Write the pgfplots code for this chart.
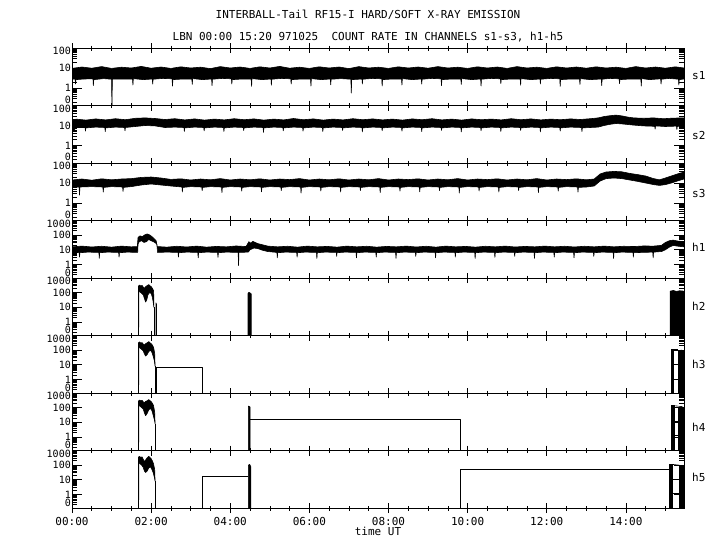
\documentclass[border=0pt]{standalone}
\usepackage{pgfplots}
\pgfplotsset{compat=1.18}
\usepackage{fontspec}
\setmainfont{DejaVu Sans Mono}
\newcommand\fs{\fontsize{11}{13}\selectfont}
\newcommand\ts{\fontsize{10}{11}\selectfont}
\newcommand\down[1]{\raisebox{-6.5pt}[0pt][0pt]{#1}}

\pgfplotsset{
  panel/.style={
    scale only axis, width=612pt, height=57.5pt,
    xmin=0, xmax=15.47, anchor=north west,
    xtick={0,2,4,6,8,10,12,14}, xticklabels={},
    minor xtick={0.5,1,1.5,2.5,3,3.5,4.5,5,5.5,6.5,7,7.5,8.5,9,9.5,10.5,11,11.5,12.5,13,13.5,14.5,15},
    xtick align=center, ytick align=inside,
    major tick length=10pt, minor tick length=5pt,
    axis line style={line width=0.8pt},
    every tick/.style={black, line width=0.6pt},
    yticklabel style={font=\ts, inner sep=1pt},
    xticklabel style={font=\fs},
    /pgf/number format/assume math mode=true,
    extra y ticks={-0.6}, extra y tick labels={\raisebox{0.8pt}{0}},
    extra y tick style={tick style={draw=none}},
    cycle list={{black, mark=none}},
    every axis plot/.append style={black, mark=none, line width=0.6pt, line join=round},
  },
  spanel/.style={panel, ymin=-0.875, ymax=2,
    ytick={0,1,2}, yticklabels={1,10,\down{100}},
    minor ytick={-0.699,-0.523,-0.398,-0.301,-0.222,-0.155,-0.097,-0.046,
      0.301,0.477,0.602,0.699,0.778,0.845,0.903,0.954,
      1.301,1.477,1.602,1.699,1.778,1.845,1.903,1.954}},
  hpanel/.style={panel, ymin=-0.93, ymax=3,
    ytick={0,1,2,3}, yticklabels={1,10,100,\down{1000}},
    minor ytick={-0.699,-0.523,-0.398,-0.301,-0.222,-0.155,-0.097,-0.046,
      0.301,0.477,0.602,0.699,0.778,0.845,0.903,0.954,
      1.301,1.477,1.602,1.699,1.778,1.845,1.903,1.954,
      2.301,2.477,2.602,2.699,2.778,2.845,2.903,2.954}},
}

\begin{document}
\begin{tikzpicture}
\path[use as bounding box] (0,0) rectangle (720pt,-550pt);
\fs
\node at (368pt,-15pt) {INTERBALL-Tail RF15-I HARD/SOFT X-RAY EMISSION};
\node at (368pt,-37pt) {LBN 00:00 15:20 971025~ COUNT RATE IN CHANNELS s1-s3, h1-h5};

% s1
\begin{axis}[spanel, at={(72pt,-48pt)}]
\addplot[fill=black] coordinates {
(0,0.98)(0.25,1.05)(0.5,0.99)(0.75,1.07)(1.0,0.98)(1.25,1.04)(1.5,1.0)(1.75,1.08)(2.0,0.99)(2.25,1.05)(2.5,0.98)(2.75,1.06)(3.0,1.0)(3.25,1.04)(3.5,0.97)(3.75,1.07)(4.0,1.0)(4.25,1.05)(4.5,0.98)(4.75,1.06)(5.0,1.0)(5.25,1.08)(5.5,0.99)(5.75,1.04)(6.0,0.98)(6.25,1.06)(6.5,1.0)(6.75,1.05)(7.0,0.97)(7.25,1.07)(7.5,1.0)(7.75,1.04)(8.0,0.98)(8.25,1.06)(8.5,1.0)(8.75,1.05)(9.0,0.99)(9.25,1.07)(9.5,1.0)(9.75,1.04)(10.0,0.98)(10.25,1.06)(10.5,1.0)(10.75,1.05)(11.0,0.98)(11.25,1.07)(11.5,1.0)(11.75,1.04)(12.0,0.98)(12.25,1.06)(12.5,1.0)(12.75,1.05)(13.0,0.99)(13.25,1.06)(13.5,1.0)(13.75,1.04)(14.0,0.98)(14.25,1.07)(14.5,1.0)(14.75,1.05)(15.0,0.99)(15.25,1.06)(15.47,1.0)
(15.47,0.45)(15.35,0.42)(15.34,0.15)(15.33,0.44)(15.1,0.48)(14.9,0.44)(14.89,0.2)(14.88,0.46)(14.6,0.42)(14.4,0.47)(14.39,0.1)(14.38,0.44)(14.1,0.45)(13.85,0.42)(13.84,0.22)(13.83,0.46)(13.6,0.48)(13.4,0.44)(13.39,0.12)(13.38,0.45)(13.1,0.42)(12.85,0.47)(12.84,0.18)(12.83,0.44)(12.6,0.45)(12.35,0.42)(12.34,0.08)(12.33,0.46)(12.1,0.48)(11.85,0.44)(11.84,0.2)(11.83,0.45)(11.6,0.42)(11.35,0.47)(11.34,0.14)(11.33,0.44)(11.1,0.45)(10.85,0.42)(10.84,0.22)(10.83,0.46)(10.6,0.48)(10.35,0.44)(10.34,0.1)(10.33,0.45)(10.1,0.42)(9.85,0.47)(9.84,0.18)(9.83,0.44)(9.6,0.45)(9.35,0.42)(9.34,0.12)(9.33,0.46)(9.1,0.48)(8.85,0.44)(8.84,0.2)(8.83,0.45)(8.6,0.42)(8.35,0.47)(8.34,0.15)(8.33,0.44)(8.1,0.45)(7.85,0.42)(7.84,0.1)(7.83,0.46)(7.6,0.48)(7.35,0.44)(7.34,0.2)(7.33,0.45)(7.07,0.42)(7.06,-0.25)(7.05,0.44)(6.8,0.47)(6.55,0.44)(6.54,0.16)(6.53,0.45)(6.3,0.42)(6.05,0.47)(6.04,0.1)(6.03,0.44)(5.8,0.45)(5.55,0.42)(5.54,0.2)(5.53,0.46)(5.3,0.48)(5.05,0.44)(5.04,0.14)(5.03,0.45)(4.8,0.42)(4.55,0.47)(4.54,0.08)(4.53,0.44)(4.3,0.45)(4.05,0.42)(4.04,0.2)(4.03,0.46)(3.8,0.48)(3.55,0.44)(3.54,0.12)(3.53,0.45)(3.3,0.42)(3.05,0.47)(3.04,0.18)(3.03,0.44)(2.8,0.45)(2.55,0.42)(2.54,0.1)(2.53,0.46)(2.3,0.48)(2.05,0.44)(2.04,0.2)(2.03,0.45)(1.8,0.42)(1.55,0.47)(1.54,0.15)(1.53,0.44)(1.3,0.45)(1.02,0.44)(1.01,-1)(1.0,0.44)(0.8,0.47)(0.55,0.42)(0.54,0.12)(0.53,0.46)(0.3,0.45)(0.1,0.42)(0.09,0.2)(0.08,0.44)(0,0.45)};
\end{axis}

% s2
\begin{axis}[spanel, at={(72pt,-105.5pt)}]
\addplot[fill=black] coordinates {
(0,1.22)(0.1,1.32)(0.35,1.27)(0.6,1.33)(0.85,1.28)(1.1,1.34)(1.35,1.29)(1.6,1.36)(1.85,1.38)(2.1,1.35)(2.35,1.3)(2.6,1.34)(2.85,1.28)(3.1,1.33)(3.35,1.27)(3.6,1.32)(3.85,1.28)(4.1,1.34)(4.35,1.29)(4.6,1.33)(4.85,1.27)(5.1,1.32)(5.35,1.28)(5.6,1.35)(5.85,1.29)(6.1,1.33)(6.35,1.27)(6.6,1.32)(6.85,1.28)(7.1,1.34)(7.35,1.29)(7.6,1.33)(7.85,1.28)(8.1,1.32)(8.35,1.27)(8.6,1.33)(8.85,1.29)(9.1,1.34)(9.35,1.28)(9.6,1.32)(9.85,1.27)(10.1,1.33)(10.35,1.29)(10.6,1.32)(10.85,1.28)(11.1,1.34)(11.35,1.29)(11.6,1.33)(11.85,1.28)(12.1,1.32)(12.35,1.29)(12.6,1.33)(12.85,1.3)(13.1,1.34)(13.3,1.38)(13.45,1.45)(13.6,1.49)(13.75,1.52)(13.9,1.48)(14.05,1.42)(14.2,1.38)(14.45,1.36)(14.7,1.38)(14.95,1.34)(15.2,1.37)(15.47,1.38)
(15.47,0.98)(15.3,0.96)(15.29,0.8)(15.28,0.97)(15.0,0.95)(14.75,0.98)(14.74,0.82)(14.73,0.96)(14.45,0.98)(14.2,1.02)(14.05,1.05)(13.9,1.08)(13.75,1.1)(13.6,1.06)(13.45,1.0)(13.3,0.92)(13.1,0.9)(12.9,0.88)(12.89,0.7)(12.88,0.9)(12.6,0.92)(12.35,0.88)(12.34,0.72)(12.33,0.9)(12.1,0.92)(11.85,0.88)(11.84,0.68)(11.83,0.9)(11.6,0.92)(11.35,0.88)(11.34,0.75)(11.33,0.9)(11.1,0.92)(10.85,0.88)(10.84,0.7)(10.83,0.9)(10.6,0.92)(10.35,0.88)(10.34,0.74)(10.33,0.9)(10.1,0.92)(9.85,0.88)(9.84,0.68)(9.83,0.9)(9.6,0.92)(9.35,0.88)(9.34,0.76)(9.33,0.9)(9.1,0.92)(8.85,0.88)(8.84,0.7)(8.83,0.9)(8.6,0.92)(8.35,0.88)(8.34,0.72)(8.33,0.9)(8.1,0.92)(7.85,0.88)(7.84,0.74)(7.83,0.9)(7.6,0.92)(7.35,0.88)(7.34,0.68)(7.33,0.9)(7.1,0.92)(6.85,0.88)(6.84,0.75)(6.83,0.9)(6.6,0.92)(6.35,0.88)(6.34,0.7)(6.33,0.9)(6.1,0.92)(5.85,0.88)(5.84,0.72)(5.83,0.9)(5.6,0.92)(5.35,0.88)(5.34,0.74)(5.33,0.9)(5.1,0.92)(4.85,0.88)(4.84,0.66)(4.83,0.9)(4.6,0.92)(4.35,0.88)(4.34,0.75)(4.33,0.9)(4.1,0.92)(3.85,0.88)(3.84,0.7)(3.83,0.9)(3.6,0.92)(3.35,0.88)(3.34,0.73)(3.33,0.9)(3.1,0.92)(2.85,0.88)(2.84,0.7)(2.83,0.9)(2.6,0.92)(2.35,0.9)(2.1,0.98)(1.85,1.0)(1.6,0.95)(1.35,0.9)(1.34,0.74)(1.33,0.9)(1.1,0.92)(0.85,0.88)(0.84,0.7)(0.83,0.9)(0.6,0.92)(0.35,0.88)(0.34,0.72)(0.33,0.9)(0.1,0.9)(0.02,0.68)(0,0.7)};
\end{axis}

% s3
\begin{axis}[spanel, at={(72pt,-163pt)}]
\addplot[fill=black] coordinates {
(0,1.15)(0.25,1.2)(0.5,1.14)(0.75,1.21)(1.0,1.16)(1.25,1.2)(1.5,1.22)(1.75,1.28)(2.0,1.3)(2.25,1.25)(2.5,1.18)(2.75,1.21)(3.0,1.15)(3.25,1.2)(3.5,1.16)(3.75,1.22)(4.0,1.15)(4.25,1.2)(4.5,1.16)(4.75,1.21)(5.0,1.15)(5.25,1.2)(5.5,1.17)(5.75,1.22)(6.0,1.15)(6.25,1.2)(6.5,1.16)(6.75,1.21)(7.0,1.15)(7.25,1.2)(7.5,1.16)(7.75,1.22)(8.0,1.15)(8.25,1.2)(8.5,1.17)(8.75,1.21)(9.0,1.15)(9.25,1.2)(9.5,1.16)(9.75,1.22)(10.0,1.15)(10.25,1.2)(10.5,1.17)(10.75,1.21)(11.0,1.15)(11.25,1.2)(11.5,1.16)(11.75,1.22)(12.0,1.15)(12.25,1.2)(12.5,1.17)(12.75,1.21)(13.0,1.16)(13.2,1.2)(13.35,1.45)(13.5,1.55)(13.7,1.58)(13.9,1.56)(14.1,1.48)(14.3,1.42)(14.5,1.35)(14.7,1.22)(14.85,1.16)(15.0,1.25)(15.15,1.35)(15.3,1.45)(15.47,1.55)
(15.47,1.2)(15.3,1.1)(15.15,1.0)(15.0,0.92)(14.85,0.88)(14.7,0.92)(14.5,1.0)(14.3,1.08)(14.1,1.15)(13.9,1.22)(13.7,1.25)(13.5,1.22)(13.35,1.1)(13.2,0.85)(13.0,0.8)(12.8,0.78)(12.79,0.55)(12.78,0.8)(12.5,0.82)(12.3,0.78)(12.29,0.6)(12.28,0.8)(12.0,0.82)(11.8,0.78)(11.79,0.52)(11.78,0.8)(11.5,0.82)(11.3,0.78)(11.29,0.62)(11.28,0.8)(11.0,0.82)(10.8,0.78)(10.79,0.55)(10.78,0.8)(10.5,0.82)(10.3,0.78)(10.29,0.6)(10.28,0.8)(10.0,0.82)(9.8,0.78)(9.79,0.5)(9.78,0.8)(9.5,0.82)(9.3,0.78)(9.29,0.62)(9.28,0.8)(9.0,0.82)(8.8,0.78)(8.79,0.56)(8.78,0.8)(8.5,0.82)(8.3,0.78)(8.29,0.6)(8.28,0.8)(8.0,0.82)(7.8,0.78)(7.79,0.52)(7.78,0.8)(7.5,0.82)(7.3,0.78)(7.29,0.62)(7.28,0.8)(7.0,0.82)(6.8,0.78)(6.79,0.55)(6.78,0.8)(6.5,0.82)(6.3,0.78)(6.29,0.6)(6.28,0.8)(6.0,0.82)(5.8,0.78)(5.79,0.5)(5.78,0.8)(5.5,0.82)(5.3,0.78)(5.29,0.62)(5.28,0.8)(5.0,0.82)(4.8,0.78)(4.79,0.56)(4.78,0.8)(4.5,0.82)(4.3,0.78)(4.29,0.6)(4.28,0.8)(4.0,0.82)(3.8,0.78)(3.79,0.52)(3.78,0.8)(3.5,0.82)(3.3,0.78)(3.29,0.62)(3.28,0.8)(3.0,0.82)(2.8,0.78)(2.79,0.55)(2.78,0.8)(2.5,0.85)(2.25,0.9)(2.0,0.95)(1.75,0.9)(1.5,0.82)(1.3,0.78)(1.29,0.58)(1.28,0.8)(1.0,0.82)(0.8,0.78)(0.79,0.55)(0.78,0.8)(0.5,0.82)(0.2,0.8)(0.19,0.4)(0.18,0.8)(0,0.78)};
\end{axis}

% h1
\begin{axis}[hpanel, at={(72pt,-220.5pt)}]
\addplot[fill=black] coordinates {
(0,1.2)(0.25,1.25)(0.5,1.19)(0.75,1.24)(1.0,1.18)(1.25,1.25)(1.5,1.2)(1.65,1.22)(1.67,1.85)(1.72,1.95)(1.78,1.9)(1.84,2.02)(1.9,2.08)(1.96,2.02)(2.02,1.9)(2.08,1.75)(2.13,1.6)(2.15,1.22)(2.4,1.18)(2.65,1.24)(2.9,1.19)(3.15,1.25)(3.4,1.18)(3.65,1.23)(3.9,1.2)(4.15,1.26)(4.4,1.22)(4.47,1.55)(4.52,1.45)(4.57,1.58)(4.63,1.5)(4.7,1.42)(4.8,1.35)(4.95,1.25)(5.2,1.2)(5.45,1.24)(5.7,1.18)(5.95,1.25)(6.2,1.2)(6.45,1.23)(6.7,1.18)(6.95,1.25)(7.2,1.2)(7.45,1.24)(7.7,1.18)(7.95,1.23)(8.2,1.2)(8.45,1.25)(8.7,1.19)(8.95,1.24)(9.2,1.18)(9.45,1.25)(9.7,1.2)(9.95,1.23)(10.2,1.18)(10.45,1.24)(10.7,1.2)(10.95,1.25)(11.2,1.19)(11.45,1.23)(11.7,1.2)(11.95,1.25)(12.2,1.2)(12.45,1.24)(12.7,1.19)(12.95,1.24)(13.2,1.2)(13.45,1.25)(13.7,1.2)(13.95,1.24)(14.2,1.22)(14.45,1.26)(14.7,1.25)(14.9,1.3)(15.0,1.5)(15.1,1.62)(15.2,1.66)(15.3,1.6)(15.47,1.55)
(15.47,1.2)(15.3,1.25)(15.2,1.3)(15.1,1.18)(15.0,1.0)(14.9,0.88)(14.7,0.84)(14.69,0.45)(14.68,0.84)(14.4,0.82)(14.2,0.8)(14.19,0.5)(14.18,0.82)(13.9,0.84)(13.7,0.8)(13.69,0.4)(13.68,0.82)(13.4,0.84)(13.2,0.8)(13.19,0.55)(13.18,0.82)(12.9,0.84)(12.7,0.8)(12.69,0.45)(12.68,0.82)(12.4,0.84)(12.2,0.8)(12.19,0.5)(12.18,0.82)(11.9,0.84)(11.7,0.8)(11.69,0.42)(11.68,0.82)(11.4,0.84)(11.2,0.8)(11.19,0.55)(11.18,0.82)(10.9,0.84)(10.7,0.8)(10.69,0.48)(10.68,0.82)(10.4,0.84)(10.2,0.8)(10.19,0.4)(10.18,0.82)(9.9,0.84)(9.7,0.8)(9.69,0.5)(9.68,0.82)(9.4,0.84)(9.2,0.8)(9.19,0.45)(9.18,0.82)(8.9,0.84)(8.7,0.8)(8.69,0.55)(8.68,0.82)(8.4,0.84)(8.2,0.8)(8.19,0.42)(8.18,0.82)(7.9,0.84)(7.7,0.8)(7.69,0.5)(7.68,0.82)(7.4,0.84)(7.2,0.8)(7.19,0.45)(7.18,0.82)(6.9,0.84)(6.7,0.8)(6.69,0.55)(6.68,0.82)(6.4,0.84)(6.2,0.8)(6.19,0.4)(6.18,0.82)(5.9,0.84)(5.7,0.8)(5.69,0.5)(5.68,0.82)(5.4,0.84)(5.2,0.8)(5.19,0.45)(5.18,0.82)(4.95,0.88)(4.8,0.98)(4.7,1.08)(4.6,1.12)(4.5,1.0)(4.46,0.85)(4.3,0.82)(4.22,0.82)(4.21,-0.08)(4.2,0.82)(3.9,0.84)(3.7,0.8)(3.69,0.48)(3.68,0.82)(3.4,0.84)(3.2,0.8)(3.19,0.45)(3.18,0.82)(2.9,0.84)(2.7,0.8)(2.69,0.5)(2.68,0.82)(2.4,0.84)(2.16,0.82)(2.15,1.35)(2.12,1.45)(2.06,1.55)(2.0,1.62)(1.94,1.7)(1.88,1.55)(1.82,1.5)(1.76,1.62)(1.7,1.55)(1.67,1.4)(1.66,0.82)(1.4,0.84)(1.2,0.8)(1.19,0.5)(1.18,0.82)(0.9,0.84)(0.7,0.8)(0.69,0.42)(0.68,0.82)(0.4,0.84)(0.2,0.8)(0.19,0.5)(0.18,0.82)(0,0.8)};
\end{axis}

% h2
\begin{axis}[hpanel, at={(72pt,-278pt)}]
\addplot[fill=black] coordinates {(1.68,-1)(1.68,2.45)(1.71,2.52)(1.74,2.44)(1.77,2.5)(1.8,2.38)(1.83,2.3)(1.86,2.4)(1.9,2.48)(1.94,2.55)(1.97,2.47)(2.0,2.42)(2.03,2.3)(2.06,2.15)(2.07,1.7)(2.07,1.0)(2.05,1.4)(2.03,1.7)(2.0,1.95)(1.96,2.0)(1.92,1.85)(1.89,1.5)(1.86,1.36)(1.83,1.6)(1.8,1.85)(1.76,1.95)(1.72,2.05)(1.69,2.15)(1.685,-1)};
\addplot coordinates {(2.07,1.0)(2.07,-1)};
\addplot coordinates {(2.12,-1)(2.12,1.3)(2.14,1.2)(2.14,-1)};
\addplot[fill=black] coordinates {(4.45,-1)(4.45,1.95)(4.47,2.02)(4.5,1.98)(4.53,1.92)(4.53,-1)};
\addplot[fill=black] coordinates {(15.12,-1)(15.12,2.1)(15.2,2.15)(15.28,2.08)(15.36,2.13)(15.47,2.1)(15.47,-1)};
\end{axis}

% h3
\begin{axis}[hpanel, at={(72pt,-335.5pt)}]
\addplot[fill=black] coordinates {(1.68,-1)(1.68,2.5)(1.71,2.56)(1.74,2.48)(1.77,2.52)(1.8,2.42)(1.83,2.35)(1.86,2.44)(1.9,2.5)(1.94,2.58)(1.97,2.5)(2.0,2.45)(2.03,2.35)(2.06,2.2)(2.09,1.8)(2.1,0.9)(2.08,1.3)(2.05,1.6)(2.02,1.85)(1.98,2.0)(1.94,1.9)(1.9,1.7)(1.86,1.6)(1.83,1.75)(1.8,1.95)(1.76,2.05)(1.72,2.15)(1.69,2.2)(1.685,-1)};
\addplot coordinates {(2.1,0.9)(2.1,-1)};
\addplot coordinates {(2.12,-1)(2.12,0.86)(3.3,0.86)(3.3,-1)};
\addplot[fill=black] coordinates {(15.14,-1)(15.14,2.04)(15.2,2.04)(15.2,-1)};
\addplot coordinates {(15.2,2.04)(15.33,2.04)};
\addplot coordinates {(15.2,1.0)(15.33,1.0)};
\addplot coordinates {(15.2,0)(15.33,0)};
\addplot[fill=black] coordinates {(15.33,-1)(15.33,1.95)(15.4,2.0)(15.47,1.95)(15.47,-1)};
\end{axis}

% h4
\begin{axis}[hpanel, at={(72pt,-393pt)}]
\addplot[fill=black] coordinates {(1.68,-1)(1.68,2.45)(1.71,2.52)(1.74,2.46)(1.77,2.5)(1.8,2.4)(1.83,2.33)(1.86,2.42)(1.9,2.47)(1.94,2.55)(1.97,2.48)(2.0,2.42)(2.03,2.3)(2.06,2.15)(2.09,1.7)(2.1,0.9)(2.08,1.2)(2.05,1.5)(2.02,1.8)(1.98,1.95)(1.94,1.85)(1.9,1.6)(1.86,1.45)(1.83,1.65)(1.8,1.9)(1.76,2.0)(1.72,2.1)(1.69,2.2)(1.685,-1)};
\addplot coordinates {(2.1,0.9)(2.1,-1)};
\addplot[fill=black] coordinates {(4.46,-1)(4.46,2.1)(4.5,2.05)(4.5,-1)};
\addplot coordinates {(4.5,1.2)(9.81,1.2)(9.81,-1)};
\addplot[fill=black] coordinates {(15.15,-1)(15.15,2.13)(15.22,2.13)(15.22,-1)};
\addplot coordinates {(15.22,2.13)(15.33,2.1)};
\addplot coordinates {(15.22,1.1)(15.33,1.1)};
\addplot coordinates {(15.22,0.08)(15.33,0.08)};
\addplot[fill=black] coordinates {(15.33,-1)(15.33,2.05)(15.4,2.08)(15.47,2.0)(15.47,-1)};
\end{axis}

% h5
\begin{axis}[hpanel, at={(72pt,-450.5pt)},
  xticklabels={00:00,02:00,04:00,06:00,08:00,10:00,12:00,14:00}]
\addplot[fill=black] coordinates {(1.68,-1)(1.68,2.55)(1.71,2.6)(1.74,2.52)(1.77,2.57)(1.8,2.4)(1.83,2.25)(1.86,2.35)(1.9,2.5)(1.94,2.6)(1.97,2.52)(2.0,2.45)(2.03,2.3)(2.06,2.1)(2.09,1.7)(2.1,0.9)(2.08,1.2)(2.05,1.5)(2.02,1.7)(1.98,1.9)(1.94,1.8)(1.9,1.6)(1.86,1.5)(1.83,1.6)(1.8,1.85)(1.76,2.0)(1.72,2.1)(1.69,2.2)(1.685,-1)};
\addplot coordinates {(2.1,0.9)(2.1,-1)};
\addplot coordinates {(3.3,-1)(3.3,1.22)(4.46,1.22)};
\addplot[fill=black] coordinates {(4.46,-1)(4.46,2.0)(4.49,2.05)(4.52,1.9)(4.52,-1)};
\addplot coordinates {(9.81,-1)(9.81,1.75)(15.12,1.75)};
\addplot[fill=black] coordinates {(15.1,-1)(15.1,2.05)(15.18,2.05)(15.18,-1)};
\addplot coordinates {(15.18,2.05)(15.35,2.0)};
\addplot coordinates {(15.18,1.0)(15.35,1.0)};
\addplot coordinates {(15.18,0.1)(15.35,0.1)};
\addplot[fill=black] coordinates {(15.35,-1)(15.35,1.87)(15.47,1.87)(15.47,-1)};
\end{axis}

\node[anchor=west, inner sep=0] at (692pt,-76pt) {s1};
\node[anchor=west, inner sep=0] at (692pt,-135pt) {s2};
\node[anchor=west, inner sep=0] at (692pt,-193pt) {s3};
\node[anchor=west, inner sep=0] at (692pt,-247pt) {h1};
\node[anchor=west, inner sep=0] at (692pt,-306pt) {h2};
\node[anchor=west, inner sep=0] at (692pt,-364pt) {h3};
\node[anchor=west, inner sep=0] at (692pt,-427pt) {h4};
\node[anchor=west, inner sep=0] at (692pt,-477pt) {h5};
\node at (378pt,-531pt) {time UT};
\end{tikzpicture}
\end{document}
